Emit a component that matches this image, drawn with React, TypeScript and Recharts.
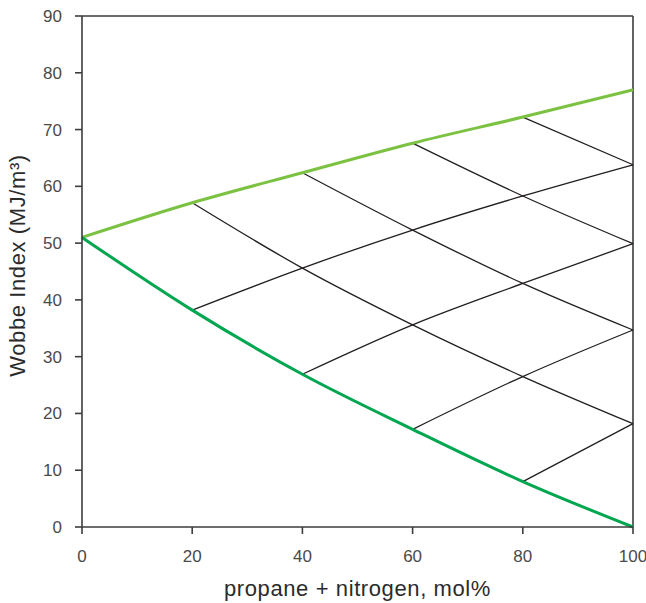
import { Label, Line, LineChart, ReferenceLine, XAxis, YAxis } from 'recharts'

// x positions of the mixture nodes (propane + nitrogen, mol%)
const nodeX = [0, 20, 40, 60, 80, 100]
const upperWobbe = [51, 57.1, 62.4, 67.6, 72.2, 77.0]
const lowerWobbe = [51, 38.2, 26.9, 17.2, 8.0, 0]

// black grid lines, each starting on a curve at x = 20, 40, 60, 80
const downLines = [
  [57.1, 45.6, 35.6, 26.5, 18.2],
  [62.4, 52.3, 42.9, 34.7],
  [67.6, 58.3, 49.9],
  [72.2, 63.8],
]
const upLines = [
  [38.2, 45.6, 52.3, 58.3, 63.8],
  [26.9, 35.6, 42.9, 49.9],
  [17.2, 26.5, 34.7],
  [8.0, 18.2],
]

const xTicks = [0, 20, 40, 60, 80, 100]
const yTicks = [0, 10, 20, 30, 40, 50, 60, 70, 80, 90]

const toPoints = (values: number[], startIndex: number) =>
  values.map((y, i) => ({ x: nodeX[startIndex + i], y }))

const upperData = toPoints(upperWobbe, 0)
const lowerData = toPoints(lowerWobbe, 0)
const gridLines = [
  ...downLines.map((v, i) => toPoints(v, i + 1)),
  ...upLines.map((v, i) => toPoints(v, i + 1)),
]

const axisColor = '#3d3d3d'
const font = '"Liberation Sans", Arial, sans-serif'

export default function App() {
  return (
    <div style={{ position: 'absolute', left: 0, top: 0 }}>
      <LineChart width={646} height={603} margin={{ top: 16, right: 13, left: 0, bottom: 0 }}>
        <XAxis
          dataKey="x"
          type="number"
          domain={[0, 100]}
          ticks={xTicks}
          allowDuplicatedCategory={false}
          height={76}
          tickSize={7}
          tickMargin={16}
          stroke={axisColor}
          strokeWidth={1.6}
          tick={{ fill: '#4a4a4a', fontSize: 17, fontFamily: font }}
        >
          <Label
            value="propane + nitrogen, mol%"
            position="insideBottom"
            offset={7}
            style={{ fill: '#2b2b2b', fontSize: 22, fontFamily: font, letterSpacing: 0.6 }}
          />
        </XAxis>
        <YAxis
          type="number"
          domain={[0, 90]}
          ticks={yTicks}
          width={82}
          tickSize={7}
          tickMargin={13}
          stroke={axisColor}
          strokeWidth={1.6}
          tick={{ fill: '#4a4a4a', fontSize: 17, fontFamily: font }}
        >
          <Label
            value="Wobbe Index (MJ/m³)"
            angle={-90}
            position="insideLeft"
            offset={17.5}
            dy={-6}
            textAnchor="middle"
            style={{ fill: '#2b2b2b', fontSize: 22, fontFamily: font, letterSpacing: 0.6 }}
          />
        </YAxis>
        <ReferenceLine y={90} stroke={axisColor} strokeWidth={1.6} />
        <ReferenceLine x={100} stroke={axisColor} strokeWidth={1.6} />
        {gridLines.map((data, i) => (
          <Line
            key={i}
            data={data}
            dataKey="y"
            type="monotone"
            stroke="#231f20"
            strokeWidth={1.3}
            dot={false}
            activeDot={false}
            isAnimationActive={false}
          />
        ))}
        <Line
          data={upperData}
          dataKey="y"
          type="monotone"
          stroke="#7cc242"
          strokeWidth={3}
          dot={false}
          activeDot={false}
          isAnimationActive={false}
        />
        <Line
          data={lowerData}
          dataKey="y"
          type="monotone"
          stroke="#00a650"
          strokeWidth={3}
          dot={false}
          activeDot={false}
          isAnimationActive={false}
        />
      </LineChart>
    </div>
  )
}
